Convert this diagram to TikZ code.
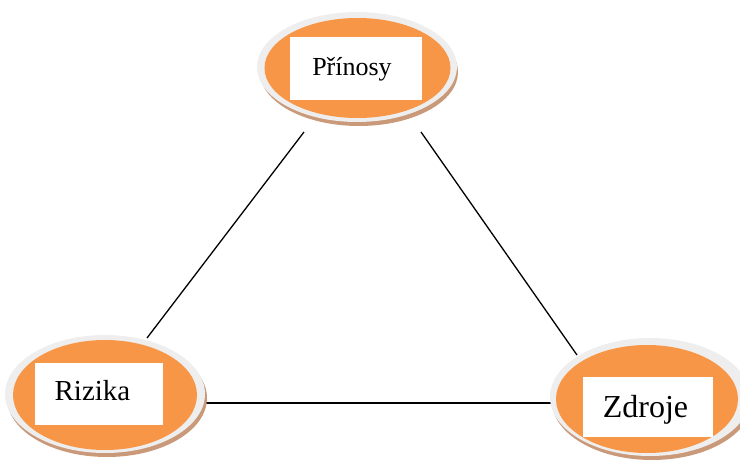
\documentclass[tikz,border=0pt]{standalone}
\usepackage{fontspec}
\setmainfont{Liberation Serif}
\usetikzlibrary{shapes.geometric}
\definecolor{orng}{HTML}{F79646}
\definecolor{ringc}{HTML}{EEEEEE}
\definecolor{shad}{HTML}{C9997A}
\tikzset{
  shadowell/.style={ellipse,fill=shad,draw=none,inner sep=0pt},
  ringell/.style={ellipse,fill=ringc,draw=none,inner sep=0pt},
  orngell/.style={ellipse,fill=orng,draw=none,inner sep=0pt},
  whitebox/.style={rectangle,fill=white,draw=none,inner sep=0pt},
  lbl/.style={anchor=base,inner sep=0pt},
  conn/.style={draw=black,line width=1.3pt}
}
\begin{document}
\begin{tikzpicture}[x=1pt,y=-1pt]
\useasboundingbox (0,0) rectangle (740,461);
% connectors
\coordinate (c1) at (304,132);
\coordinate (c2) at (147,338);
\coordinate (c3) at (421,132);
\coordinate (c4) at (577,355);
\coordinate (c5) at (200,403);
\coordinate (c6) at (553,403);
\draw[conn] (c1) -- (c2);
\draw[conn] (c3) -- (c4);
\draw[conn] (c5) -- (c6);
% top: Prinosy
\node[shadowell,minimum width=198pt,minimum height=108pt] (Ps) at (359,72) {};
\node[ringell,minimum width=200pt,minimum height=110pt] (P) at (357,67) {};
\node[orngell,minimum width=186pt,minimum height=100pt] (Po) at (357.5,68) {};
\node[whitebox,minimum width=132pt,minimum height=63pt] (Pb) at (356,68.5) {};
\node[lbl,font=\fontsize{26}{30}\selectfont] (Pt) at (352,75) {Přínosy};
% Rizika
\node[shadowell,minimum width=200pt,minimum height=118pt] (Rs) at (107,398) {};
\node[ringell,minimum width=200pt,minimum height=118pt] (R) at (105,394) {};
\node[orngell,minimum width=184pt,minimum height=110pt] (Ro) at (105,395) {};
\node[whitebox,minimum width=128pt,minimum height=62pt] (Rb) at (99,394) {};
\node[lbl,font=\fontsize{29}{33}\selectfont] (Rt) at (92.5,400) {Rizika};
% Zdroje
\node[shadowell,minimum width=200pt,minimum height=118pt] (Zs) at (652,401) {};
\node[ringell,minimum width=200pt,minimum height=118pt] (Z) at (650,397) {};
\node[orngell,minimum width=182pt,minimum height=108pt] (Zo) at (647,399) {};
\node[whitebox,minimum width=130pt,minimum height=60pt] (Zb) at (648,407) {};
\node[lbl,font=\fontsize{32}{36}\selectfont] (Zt) at (645.5,417) {Zdroje};
\end{tikzpicture}
\end{document}
